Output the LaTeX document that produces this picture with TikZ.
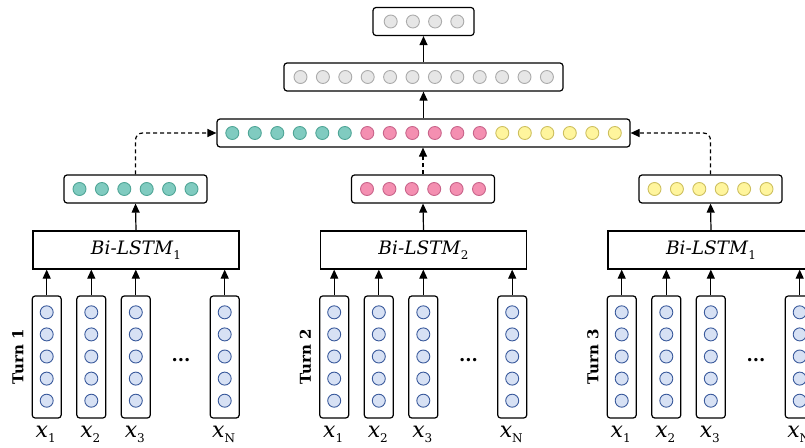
\documentclass[tikz,border=0pt]{standalone}
\usepackage{fontspec}
\setmainfont{DejaVu Serif}
\usetikzlibrary{arrows.meta}
\definecolor{tealF}{HTML}{80CBC0}
\definecolor{tealD}{HTML}{4FA596}
\definecolor{pinkF}{HTML}{F48FB1}
\definecolor{pinkD}{HTML}{C8648A}
\definecolor{yelF}{HTML}{FFF59D}
\definecolor{yelD}{HTML}{CDBF5E}
\definecolor{grayF}{HTML}{E6E6E6}
\definecolor{grayD}{HTML}{ABABAB}
\definecolor{inF}{HTML}{D7E1F4}
\definecolor{inD}{HTML}{3A5A9C}
\begin{document}
\begin{tikzpicture}[x=1pt,y=-1pt,
  vecbox/.style={draw, line width=1.2pt, rounded corners=3pt, inner sep=0pt, minimum height=28pt},
  lstmbox/.style={draw, line width=1.2pt, inner sep=0pt, minimum width=206pt, minimum height=38pt},
  colbox/.style={draw, line width=1.2pt, rounded corners=3pt, inner sep=0pt, minimum width=29pt, minimum height=122pt},
  dot/.style={circle, inner sep=0pt, minimum size=13pt, line width=0.9pt},
  tdot/.style={dot, fill=tealF, draw=tealD},
  pdot/.style={dot, fill=pinkF, draw=pinkD},
  ydot/.style={dot, fill=yelF, draw=yelD},
  gdot/.style={dot, fill=grayF, draw=grayD},
  idot/.style={dot, fill=inF, draw=inD},
  arr/.style={line width=1.2pt, -{Triangle[length=9pt,width=8pt]}},
  dasharr/.style={arr, dash pattern=on 4pt off 3pt, rounded corners=7pt},
  turnlab/.style={rotate=90, font=\bfseries\fontsize{15}{16}\selectfont},
  xlab/.style={font=\fontsize{22}{24}\selectfont, inner sep=0pt, anchor=base},
  lstmlab/.style={font=\fontsize{18.5}{22}\selectfont}
]
\useasboundingbox (0,0) rectangle (805,447);
\clip (0,0) rectangle (805,447);

% top layers
\node[vecbox, minimum width=101pt] (top) at (423.5,21.5) {};
\foreach \k in {0,...,3} \node[gdot] (topc\k) at (390.7+\k*22.2,21.5) {};
\node[vecbox, minimum width=279pt] (hid) at (423.5,77) {};
\foreach \k in {0,...,11} \node[gdot] (hidc\k) at (300.5+\k*22.4,77) {};
\node[vecbox, minimum width=413pt] (cat) at (423.5,133) {};
\foreach \k in {0,...,5} \node[tdot] (catt\k) at (232.3+\k*22.5,133) {};
\foreach \k in {6,...,11} \node[pdot] (catp\k) at (232.3+\k*22.5,133) {};
\foreach \k in {12,...,17} \node[ydot] (caty\k) at (232.3+\k*22.5,133) {};
\draw[arr] (hid.north) -- (top.south);
\draw[arr] (cat.north) -- (hid.south);

% turns
\foreach \t/\s/\dd in {1/1/tdot,2/2/pdot,3/1/ydot} {
  \pgfmathsetmacro\ox{(\t-1)*287.5}
  \node[lstmbox] (lstm\t) at (\ox+136,250) {};
  \node[lstmlab] (lstmt\t) at (\ox+136,250) {\textit{Bi-LSTM}\raisebox{-5pt}{\fontsize{12}{12}\selectfont \s}};
  \node[vecbox, minimum width=143pt] (out\t) at (\ox+135.5,189) {};
  \foreach \k in {0,...,5} \node[\dd] (out\t c\k) at (\ox+79.5+\k*22.4,189) {};
  \draw[arr] (lstm\t.north) -- (out\t.south);
  \node[turnlab] (turn\t) at (\ox+18,357) {Turn \t};
  \node[font=\bfseries\fontsize{18}{18}\selectfont, anchor=base] (dots\t) at (\ox+181,361) {...};
  \foreach \c/\cx/\lab in {1/46.7/1,2/91.3/2,3/135.8/3,4/224.7/N} {
    \node[colbox] (col\t\c) at (\ox+\cx,357) {};
    \foreach \r in {1,...,5} \node[idot] (in\t\c\r) at (\ox+\cx,312.3+\r*22.1-22.1) {};
    \node[xlab] (x\t\c) at (\ox+\cx-1,437) {\textit{x}\raisebox{-5pt}{\fontsize{12}{12}\selectfont \lab}};
    \draw[arr] (col\t\c.north) -- (col\t\c.north |- lstm\t.south);
  }
}
\draw[dasharr] (out1.north) |- (cat.west);
\draw[dasharr] (out3.north) |- (cat.east);
\draw[arr, dash pattern=on 4pt off 3pt] (out2.north) -- (out2.north |- cat.south);
\end{tikzpicture}
\end{document}
